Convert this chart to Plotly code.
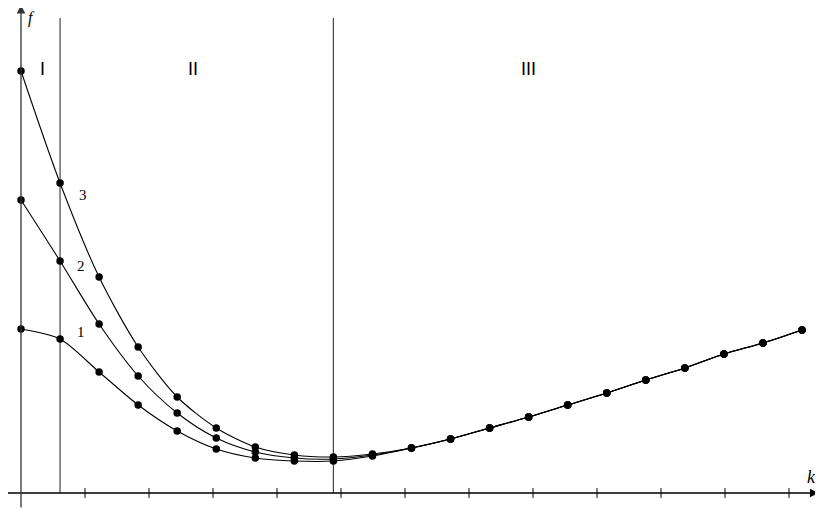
import numpy as np
import plotly.graph_objects as go

# значения по оси k (номера точек)
k = list(range(21))

# ветви до слияния (k = 0..9), дальше общий участок
f1_left = [1.64, 1.54, 1.21, 0.88, 0.62, 0.44, 0.35, 0.32, 0.32, 0.37]
f2_left = [2.93, 2.32, 1.69, 1.17, 0.80, 0.55, 0.41, 0.35, 0.34, 0.38]
f3_left = [4.22, 3.10, 2.16, 1.46, 0.96, 0.65, 0.46, 0.38, 0.36, 0.39]
f_common = [0.45, 0.54, 0.65, 0.76, 0.88, 1.00, 1.13, 1.25, 1.39, 1.50, 1.63]

curves = {"1": f1_left + f_common, "2": f2_left + f_common, "3": f3_left + f_common}

# границы областей I / II / III
borders = [1, 8]
region_names = ["I", "II", "III"]
region_pos = [0.55, 4.4, 13.0]

# деления на оси k
tick_k = [n * 64 / 39.05 for n in range(1, 13)]

# страница добавляет отступ 8px, поэтому фигура чуть меньше окна
W, H = 815, 507
px_k = 39.05   # пикселей на единицу k
px_f = 100     # пикселей на единицу f
x0_px, y0_px = 13, 485  # положение начала координат внутри фигуры

fig = go.Figure()

# деления оси
fig.add_trace(go.Scatter(x=tick_k, y=[0] * len(tick_k), mode="markers",
                         marker=dict(symbol="line-ns-open", size=7, color="black",
                                     line=dict(color="black", width=1)),
                         showlegend=False, hoverinfo="skip"))

for name, vals in curves.items():
    fig.add_trace(go.Scatter(x=k, y=vals, mode="lines+markers", name=name,
                             line=dict(color="black", width=1.1, shape="spline", smoothing=0.8),
                             marker=dict(color="black", size=7.5),
                             showlegend=False))

# вертикальные границы
for b in borders:
    fig.add_shape(type="line", x0=b, x1=b, y0=0, y1=4.75,
                  line=dict(color="#444", width=1.2), layer="below")

# оси со стрелками
fig.add_annotation(x=20.42, y=0, ax=-0.42, ay=0, xref="x", yref="y", axref="x", ayref="y",
                   text="", showarrow=True, arrowhead=2, arrowsize=1.3, arrowwidth=1.3,
                   arrowcolor="black")
fig.add_annotation(x=0, y=4.88, ax=0, ay=-0.16, xref="x", yref="y", axref="x", ayref="y",
                   text="", showarrow=True, arrowhead=2, arrowsize=1.3, arrowwidth=1.3,
                   arrowcolor="#333")

fig.add_annotation(x=0.27, y=4.75, text="<i>f</i>", showarrow=False,
                   font=dict(family="Liberation Serif", size=16, color="black"))
fig.add_annotation(x=20.25, y=0.16, text="<i>k</i>", showarrow=False,
                   font=dict(family="Liberation Serif", size=18, color="black"))

for name, xpos in zip(region_names, region_pos):
    fig.add_annotation(x=xpos, y=4.24, text=name, showarrow=False,
                       font=dict(family="Liberation Sans", size=18, color="black"))

# номера кривых
label_pos = {"1": (1.53, 1.61), "2": (1.53, 2.27), "3": (1.59, 2.98)}
for name, (xl, yl) in label_pos.items():
    fig.add_annotation(x=xl, y=yl, text=name, showarrow=False,
                       font=dict(family="Liberation Serif", size=15, color="black"))

fig.update_xaxes(range=[-x0_px / px_k, (W - x0_px) / px_k], visible=False)
fig.update_yaxes(range=[(y0_px - H) / px_f, y0_px / px_f], visible=False)
fig.update_layout(width=W, height=H, margin=dict(l=0, r=0, t=0, b=0),
                  plot_bgcolor="white", paper_bgcolor="white")

fig.write_html("out.html")
